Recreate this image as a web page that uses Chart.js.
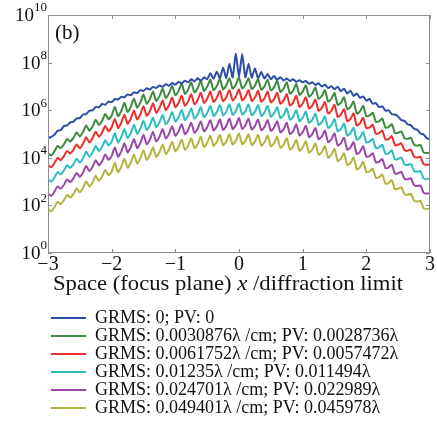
<!DOCTYPE html>
<html>
<head>
<meta charset="utf-8">
<script src="https://cdn.jsdelivr.net/npm/chart.js@4.4.0/dist/chart.umd.min.js"></script>
<style>
html, body { margin: 0; padding: 0; background: #fff; }
</style>
</head>
<body>
<canvas id="testChart" width="437" height="425"></canvas>
<script>
// x positions (focus plane / diffraction limit)
var xPositions = [
  -3, -2.95, -2.9, -2.85, -2.8, -2.75, -2.7, -2.65, -2.6, -2.55,
  -2.5, -2.45, -2.4, -2.35, -2.3, -2.25, -2.2, -2.15, -2.1, -2.05,
  -2, -1.95, -1.9, -1.85, -1.8, -1.75, -1.7, -1.65, -1.6, -1.55,
  -1.5, -1.45, -1.4, -1.35, -1.3, -1.25, -1.2, -1.15, -1.1, -1.05,
  -1, -0.95, -0.9, -0.85, -0.8, -0.75, -0.7, -0.65, -0.6, -0.55,
  -0.5, -0.45, -0.4, -0.35, -0.3, -0.25, -0.2, -0.15, -0.1, -0.05,
  0, 0.05, 0.1, 0.15, 0.2, 0.25, 0.3, 0.35, 0.4, 0.45,
  0.5, 0.55, 0.6, 0.65, 0.7, 0.75, 0.8, 0.85, 0.9, 0.95,
  1, 1.05, 1.1, 1.15, 1.2, 1.25, 1.3, 1.35, 1.4, 1.45,
  1.5, 1.55, 1.6, 1.65, 1.7, 1.75, 1.8, 1.85, 1.9, 1.95,
  2, 2.05, 2.1, 2.15, 2.2, 2.25, 2.3, 2.35, 2.4, 2.45,
  2.5, 2.55, 2.6, 2.65, 2.7, 2.75, 2.8, 2.85, 2.9, 2.95,
  3
];

// intensity, as log10
var logGrms0 = [
  4.82, 4.88, 4.97, 5.13, 5.17, 5.33, 5.36, 5.49, 5.52, 5.66,
  5.67, 5.82, 5.83, 5.98, 5.99, 6.14, 6.12, 6.26, 6.23, 6.36,
  6.34, 6.47, 6.45, 6.56, 6.54, 6.66, 6.63, 6.75, 6.72, 6.84,
  6.81, 6.92, 6.87, 6.98, 6.93, 7.04, 6.98, 7.09, 7.03, 7.14,
  7.08, 7.19, 7.13, 7.24, 7.17, 7.30, 7.21, 7.34, 7.24, 7.38,
  7.30, 7.55, 7.32, 7.62, 7.35, 7.78, 7.36, 7.95, 7.38, 8.38,
  7.40, 8.36, 7.38, 7.95, 7.37, 7.75, 7.35, 7.60, 7.33, 7.52,
  7.30, 7.44, 7.28, 7.38, 7.25, 7.33, 7.23, 7.30, 7.19, 7.26,
  7.17, 7.23, 7.11, 7.17, 7.06, 7.13, 7.00, 7.07, 6.93, 7.01,
  6.88, 6.99, 6.80, 6.90, 6.70, 6.82, 6.60, 6.70, 6.52, 6.58,
  6.40, 6.47, 6.27, 6.30, 6.13, 6.16, 5.98, 6.00, 5.83, 5.82,
  5.73, 5.58, 5.55, 5.40, 5.37, 5.22, 5.18, 5.02, 4.98, 4.82,
  4.78
];
var logGrms1 = [
  4.20, 4.10, 4.27, 4.50, 4.40, 4.57, 4.79, 4.68, 4.84, 5.06,
  4.90, 5.08, 5.36, 5.14, 5.32, 5.60, 5.38, 5.56, 5.84, 5.62,
  5.78, 6.13, 5.75, 5.96, 6.31, 5.93, 6.14, 6.49, 6.11, 6.32,
  6.67, 6.27, 6.46, 6.79, 6.39, 6.58, 6.91, 6.51, 6.70, 7.03,
  6.63, 6.80, 7.11, 6.69, 6.86, 7.17, 6.75, 6.92, 7.23, 6.81,
  6.98, 7.28, 6.85, 7.01, 7.31, 6.88, 7.04, 7.34, 6.91, 7.07,
  7.37, 6.92, 7.06, 7.34, 6.89, 7.03, 7.31, 6.86, 7.00, 7.28,
  6.83, 6.96, 7.23, 6.77, 6.90, 7.17, 6.70, 6.82, 7.10, 6.64,
  6.78, 7.04, 6.57, 6.69, 6.95, 6.48, 6.59, 6.84, 6.36, 6.47,
  6.72, 6.22, 6.31, 6.54, 6.04, 6.13, 6.36, 5.86, 5.95, 6.18,
  5.75, 5.77, 5.89, 5.51, 5.53, 5.65, 5.27, 5.29, 5.41, 5.03,
  5.05, 5.11, 4.82, 4.80, 4.84, 4.55, 4.51, 4.54, 4.23, 4.20,
  4.22
];
var logGrms2 = [
  3.70, 3.60, 3.77, 4.00, 3.90, 4.07, 4.29, 4.18, 4.34, 4.56,
  4.40, 4.58, 4.86, 4.64, 4.82, 5.10, 4.88, 5.06, 5.34, 5.12,
  5.28, 5.63, 5.25, 5.46, 5.81, 5.43, 5.64, 5.99, 5.61, 5.82,
  6.17, 5.77, 5.96, 6.29, 5.89, 6.08, 6.41, 6.01, 6.20, 6.53,
  6.13, 6.30, 6.61, 6.19, 6.36, 6.67, 6.25, 6.42, 6.73, 6.31,
  6.48, 6.78, 6.35, 6.51, 6.81, 6.38, 6.54, 6.84, 6.41, 6.57,
  6.87, 6.42, 6.56, 6.84, 6.39, 6.53, 6.81, 6.36, 6.50, 6.78,
  6.33, 6.46, 6.73, 6.27, 6.40, 6.67, 6.20, 6.32, 6.60, 6.14,
  6.28, 6.54, 6.07, 6.19, 6.45, 5.98, 6.09, 6.34, 5.86, 5.97,
  6.22, 5.72, 5.81, 6.04, 5.54, 5.63, 5.86, 5.36, 5.45, 5.68,
  5.25, 5.27, 5.39, 5.01, 5.03, 5.15, 4.77, 4.79, 4.91, 4.53,
  4.55, 4.61, 4.32, 4.30, 4.34, 4.05, 4.01, 4.04, 3.73, 3.70,
  3.72
];
var logGrms3 = [
  3.10, 3.00, 3.17, 3.40, 3.30, 3.47, 3.69, 3.58, 3.74, 3.96,
  3.80, 3.98, 4.26, 4.04, 4.22, 4.50, 4.28, 4.46, 4.74, 4.52,
  4.68, 5.03, 4.65, 4.86, 5.21, 4.83, 5.04, 5.39, 5.01, 5.22,
  5.57, 5.17, 5.36, 5.69, 5.29, 5.48, 5.81, 5.41, 5.60, 5.93,
  5.53, 5.70, 6.01, 5.59, 5.76, 6.07, 5.65, 5.82, 6.13, 5.71,
  5.88, 6.18, 5.75, 5.91, 6.21, 5.78, 5.94, 6.24, 5.81, 5.97,
  6.27, 5.82, 5.96, 6.24, 5.79, 5.93, 6.21, 5.76, 5.90, 6.18,
  5.73, 5.86, 6.13, 5.67, 5.80, 6.07, 5.60, 5.72, 6.00, 5.54,
  5.68, 5.94, 5.47, 5.59, 5.85, 5.38, 5.49, 5.74, 5.26, 5.37,
  5.62, 5.12, 5.21, 5.44, 4.94, 5.03, 5.26, 4.76, 4.85, 5.08,
  4.65, 4.67, 4.79, 4.41, 4.43, 4.55, 4.17, 4.19, 4.31, 3.93,
  3.95, 4.01, 3.72, 3.70, 3.74, 3.45, 3.41, 3.44, 3.13, 3.10,
  3.12
];
var logGrms4 = [
  2.50, 2.40, 2.57, 2.80, 2.70, 2.87, 3.09, 2.98, 3.14, 3.36,
  3.20, 3.38, 3.66, 3.44, 3.62, 3.90, 3.68, 3.86, 4.14, 3.92,
  4.08, 4.43, 4.05, 4.26, 4.61, 4.23, 4.44, 4.79, 4.41, 4.62,
  4.97, 4.57, 4.76, 5.09, 4.69, 4.88, 5.21, 4.81, 5.00, 5.33,
  4.93, 5.10, 5.41, 4.99, 5.16, 5.47, 5.05, 5.22, 5.53, 5.11,
  5.28, 5.58, 5.15, 5.31, 5.61, 5.18, 5.34, 5.64, 5.21, 5.37,
  5.67, 5.22, 5.36, 5.64, 5.19, 5.33, 5.61, 5.16, 5.30, 5.58,
  5.13, 5.26, 5.53, 5.07, 5.20, 5.47, 5.00, 5.12, 5.40, 4.94,
  5.08, 5.34, 4.87, 4.99, 5.25, 4.78, 4.89, 5.14, 4.66, 4.77,
  5.02, 4.52, 4.61, 4.84, 4.34, 4.43, 4.66, 4.16, 4.25, 4.48,
  4.05, 4.07, 4.19, 3.81, 3.83, 3.95, 3.57, 3.59, 3.71, 3.33,
  3.35, 3.41, 3.12, 3.10, 3.14, 2.85, 2.81, 2.84, 2.53, 2.50,
  2.52
];
var logGrms5 = [
  1.85, 1.75, 1.92, 2.15, 2.05, 2.22, 2.44, 2.33, 2.49, 2.71,
  2.55, 2.73, 3.01, 2.79, 2.97, 3.25, 3.03, 3.21, 3.49, 3.27,
  3.43, 3.78, 3.40, 3.61, 3.96, 3.58, 3.79, 4.14, 3.76, 3.97,
  4.32, 3.92, 4.11, 4.44, 4.04, 4.23, 4.56, 4.16, 4.35, 4.68,
  4.28, 4.45, 4.76, 4.34, 4.51, 4.82, 4.40, 4.57, 4.88, 4.46,
  4.63, 4.93, 4.50, 4.66, 4.96, 4.53, 4.69, 4.99, 4.56, 4.72,
  5.02, 4.57, 4.71, 4.99, 4.54, 4.68, 4.96, 4.51, 4.65, 4.93,
  4.48, 4.61, 4.88, 4.42, 4.55, 4.82, 4.35, 4.47, 4.75, 4.29,
  4.43, 4.69, 4.22, 4.34, 4.60, 4.13, 4.24, 4.49, 4.01, 4.12,
  4.37, 3.87, 3.96, 4.19, 3.69, 3.78, 4.01, 3.51, 3.60, 3.83,
  3.40, 3.42, 3.54, 3.16, 3.18, 3.30, 2.92, 2.94, 3.06, 2.68,
  2.70, 2.76, 2.47, 2.45, 2.49, 2.20, 2.16, 2.19, 1.88, 1.85,
  1.87
];

var seriesLabels = [
  'GRMS: 0; PV: 0',
  'GRMS: 0.0030876\u03bb /cm; PV: 0.0028736\u03bb',
  'GRMS: 0.0061752\u03bb /cm; PV: 0.0057472\u03bb',
  'GRMS: 0.01235\u03bb /cm; PV: 0.011494\u03bb',
  'GRMS: 0.024701\u03bb /cm; PV: 0.022989\u03bb',
  'GRMS: 0.049401\u03bb /cm; PV: 0.045978\u03bb'
];
var seriesColors = ['#2b4ea6', '#3d8a3d', '#ee2c2c', '#2dbdbd', '#9a47a8', '#b4b43c'];
var allSeries = [logGrms0, logGrms1, logGrms2, logGrms3, logGrms4, logGrms5];

var xTicks = [-3, -2, -1, 0, 1, 2, 3];
var yExponents = [0, 2, 4, 6, 8, 10];

var serif = '"Liberation Serif", "Times New Roman", serif';

var datasets = allSeries.map(function (logs, i) {
  return {
    label: seriesLabels[i],
    data: logs.map(function (v, j) { return { x: xPositions[j], y: Math.pow(10, v) }; }),
    borderColor: seriesColors[i],
    backgroundColor: seriesColors[i],
    borderWidth: 2,
    pointRadius: 0,
    tension: 0.2,
    fill: false
  };
});

// frame, inward ticks, y labels with exponents, panel tag and x title
var framePlugin = {
  id: 'frame',
  afterLayout: function (chart) {
    var lg = chart.legend;
    var w = lg.right - lg.left;
    var h = lg.bottom - lg.top;
    lg.left = 51;
    lg.right = 51 + w;
    lg.top = 309;
    lg.bottom = 309 + h;
  },
  afterDraw: function (chart) {
    var c = chart.ctx;
    var a = chart.chartArea;
    var xs = chart.scales.x;
    var ys = chart.scales.y;
    c.save();
    c.strokeStyle = '#8c8c8c';
    c.lineWidth = 1;
    c.strokeRect(a.left + 0.5, a.top + 0.5, a.right - a.left - 1, a.bottom - a.top - 1);
    c.beginPath();
    xTicks.forEach(function (v) {
      var px = Math.round(xs.getPixelForValue(v)) + 0.5;
      c.moveTo(px, a.bottom); c.lineTo(px, a.bottom - 4);
      c.moveTo(px, a.top); c.lineTo(px, a.top + 4);
    });
    yExponents.forEach(function (e) {
      var py = Math.round(ys.getPixelForValue(Math.pow(10, e))) + 0.5;
      c.moveTo(a.left, py); c.lineTo(a.left + 4, py);
      c.moveTo(a.right, py); c.lineTo(a.right - 4, py);
    });
    c.stroke();

    c.fillStyle = '#111';
    c.textBaseline = 'middle';
    c.textAlign = 'right';
    yExponents.forEach(function (e) {
      var py = ys.getPixelForValue(Math.pow(10, e));
      c.font = '13px ' + serif;
      var ew = c.measureText(String(e)).width;
      c.fillText(String(e), 47, py - 7);
      c.font = '19px ' + serif;
      c.fillText('10', 47 - ew, py + 1);
    });

    c.textAlign = 'left';
    c.font = '21px ' + serif;
    c.fillText('(b)', 55, 33);

    // x axis title, stretched a little to the reference width
    var parts = [['Space (focus plane) ', ''], ['x', 'italic '], [' /diffraction limit', '']];
    var total = 0;
    parts.forEach(function (p) {
      c.font = p[1] + '21px ' + serif;
      total += c.measureText(p[0]).width;
    });
    c.translate(53, 0);
    c.scale(350 / total, 1);
    c.textBaseline = 'alphabetic';
    var tx = 0;
    parts.forEach(function (p) {
      c.font = p[1] + '21px ' + serif;
      c.fillText(p[0], tx, 290);
      tx += c.measureText(p[0]).width;
    });
    c.restore();
  }
};

var ctx = document.getElementById('testChart');
var testChart = new Chart(ctx, {
  type: 'line',
  data: { datasets: datasets },
  plugins: [framePlugin],
  options: {
    responsive: false,
    animation: false,
    layout: { padding: { left: 0, right: 7, top: 15, bottom: 0 } },
    scales: {
      x: {
        type: 'linear',
        min: -3,
        max: 3,
        grid: { display: false, tickLength: 0 },
        border: { display: false },
        afterFit: function (scale) { scale.height = 54; },
        afterBuildTicks: function (scale) {
          scale.ticks = xTicks.map(function (v) { return { value: v }; });
        },
        ticks: {
          padding: 0,
          maxRotation: 0,
          autoSkip: false,
          color: '#111',
          font: { family: serif, size: 20 },
          callback: function (v) { return String(v).replace('-', '\u2212'); }
        }
      },
      y: {
        type: 'logarithmic',
        min: 1,
        max: 1e10,
        grid: { display: false },
        border: { display: false },
        ticks: { display: false },
        afterFit: function (scale) { scale.width = 48; }
      }
    },
    plugins: {
      tooltip: { enabled: false },
      legend: {
        position: 'bottom',
        align: 'start',
        labels: {
          color: '#111',
          font: { family: serif, size: 18 },
          usePointStyle: true,
          pointStyle: 'line',
          pointStyleWidth: 35,
          boxWidth: 35,
          padding: 0
        }
      }
    }
  }
});
</script>
</body>
</html>
